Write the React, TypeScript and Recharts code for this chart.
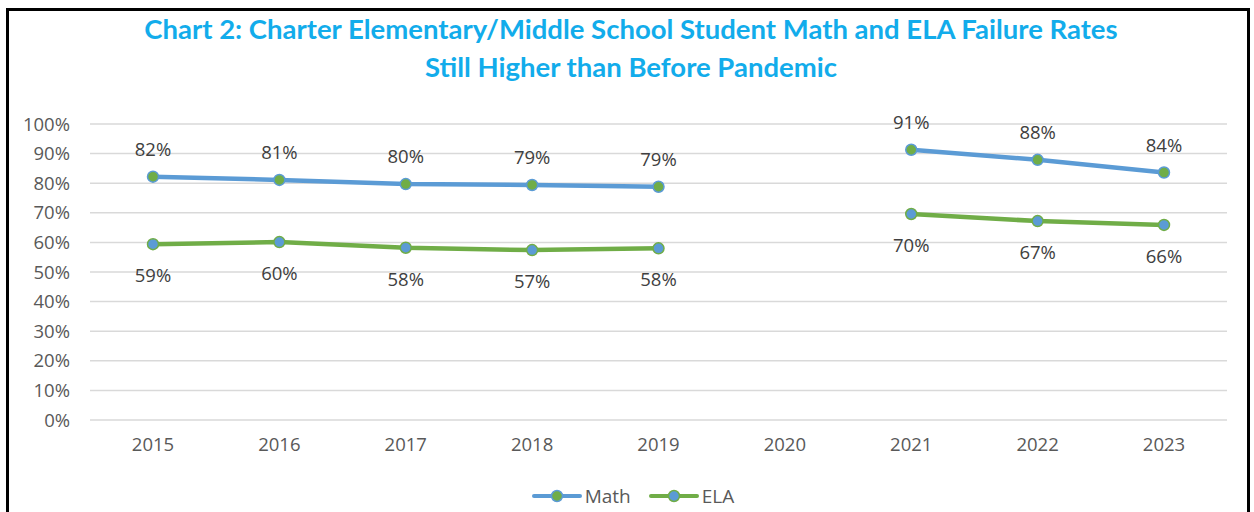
import React from "react";
import { LineChart, Line, XAxis, YAxis, CartesianGrid, LabelList } from "recharts";

const years = ["2015", "2016", "2017", "2018", "2019", "2020", "2021", "2022", "2023"];
const mathRates = [82.2, 81.1, 79.7, 79.4, 78.8, null, 91.3, 87.9, 83.6];
const elaRates = [59.4, 60.1, 58.2, 57.4, 58.0, null, 69.6, 67.2, 65.9];
const yTicks = [0, 10, 20, 30, 40, 50, 60, 70, 80, 90, 100];

const MATH = "#5B9BD5";
const ELA = "#70AD47";
const FONT = "'Open Sans', sans-serif";

const data = years.map((year, i) => ({ year, math: mathRates[i], ela: elaRates[i] }));

const pct = (v: any) => `${Math.round(Number(v))}%`;

function makeLabel(dy: number) {
  return (props: any) => {
    const { x, y, value } = props;
    if (value == null) return null;
    return (
      <text x={x} y={y + dy} textAnchor="middle" fill="#404040" fontSize={18.5} fontFamily={FONT}>
        {pct(value)}
      </text>
    );
  };
}

function makeDot(fill: string, stroke: string) {
  return (props: any) => {
    const { cx, cy, index, value } = props;
    if (value == null || cy == null) return <g key={`d-${index}`} />;
    return <circle key={`d-${index}`} cx={cx} cy={cy} r={5.5} fill={fill} stroke={stroke} strokeWidth={1.5} />;
  };
}

function LegendItem({ label, line, dot, gap }: { label: string; line: string; dot: string; gap: number }) {
  return (
    <span style={{ display: "inline-flex", alignItems: "center", marginRight: gap }}>
      <svg width={50} height={14} style={{ marginRight: 3 }}>
        <line x1={2} y1={7} x2={48} y2={7} stroke={line} strokeWidth={4} strokeLinecap="round" />
        <circle cx={25} cy={7} r={5.5} fill={dot} stroke={line} strokeWidth={1.5} />
      </svg>
      <span>{label}</span>
    </span>
  );
}

export default function App() {
  return (
    <div
      style={{
        position: "fixed",
        left: 0,
        top: 0,
        width: 1254,
        height: 512,
        background: "#fff",
        fontFamily: FONT,
        overflow: "hidden",
      }}
    >
      <div
        style={{
          position: "absolute",
          left: 6,
          top: 8,
          width: 1238,
          height: 520,
          border: "3px solid #000",
        }}
      />
      <div
        style={{
          position: "absolute",
          left: 0,
          width: 1262,
          top: 10,
          textAlign: "center",
          color: "#12ACEB",
          fontFamily: "Lato, sans-serif",
          fontWeight: 700,
          fontSize: 27.5,
          lineHeight: "38px",
        }}
      >
        <div>Chart 2: Charter Elementary/Middle School Student Math and ELA Failure Rates</div>
        <div>Still Higher than Before Pandemic</div>
      </div>
      <div style={{ position: "absolute", left: 0, top: 0 }}>
        <LineChart width={1254} height={512} data={data} margin={{ top: 124, right: 27, bottom: 62, left: 30 }}>
          <CartesianGrid horizontal vertical={false} stroke="#D9D9D9" strokeWidth={1.5} />
          <XAxis
            dataKey="year"
            axisLine={false}
            tickLine={false}
            tickSize={0}
            tickMargin={18}
            height={30}
            padding={{ left: 63, right: 63 }}
            tick={{ fill: "#595959", fontSize: 18.5, fontFamily: FONT }}
            interval={0}
          />
          <YAxis
            domain={[0, 100]}
            ticks={yTicks}
            tickFormatter={(v) => `${v}%`}
            axisLine={false}
            tickLine={false}
            tickSize={0}
            tickMargin={20}
            width={60}
            interval={0}
            tick={{ fill: "#595959", fontSize: 18.5, fontFamily: FONT }}
          />
          <Line
            dataKey="math"
            name="Math"
            stroke={MATH}
            strokeWidth={4.5}
            connectNulls={false}
            isAnimationActive={false}
            dot={makeDot(ELA, MATH)}
          >
            <LabelList dataKey="math" content={makeLabel(-21)} />
          </Line>
          <Line
            dataKey="ela"
            name="ELA"
            stroke={ELA}
            strokeWidth={4.5}
            connectNulls={false}
            isAnimationActive={false}
            dot={makeDot(MATH, ELA)}
          >
            <LabelList dataKey="ela" content={makeLabel(38)} />
          </Line>
        </LineChart>
      </div>
      <div
        style={{
          position: "absolute",
          left: 0,
          width: 1266,
          top: 483,
          fontSize: 19,
          color: "#595959",
          display: "flex",
          justifyContent: "center",
        }}
      >
        <LegendItem label="Math" line={MATH} dot={ELA} gap={18} />
        <LegendItem label="ELA" line={ELA} dot={MATH} gap={0} />
      </div>
    </div>
  );
}
